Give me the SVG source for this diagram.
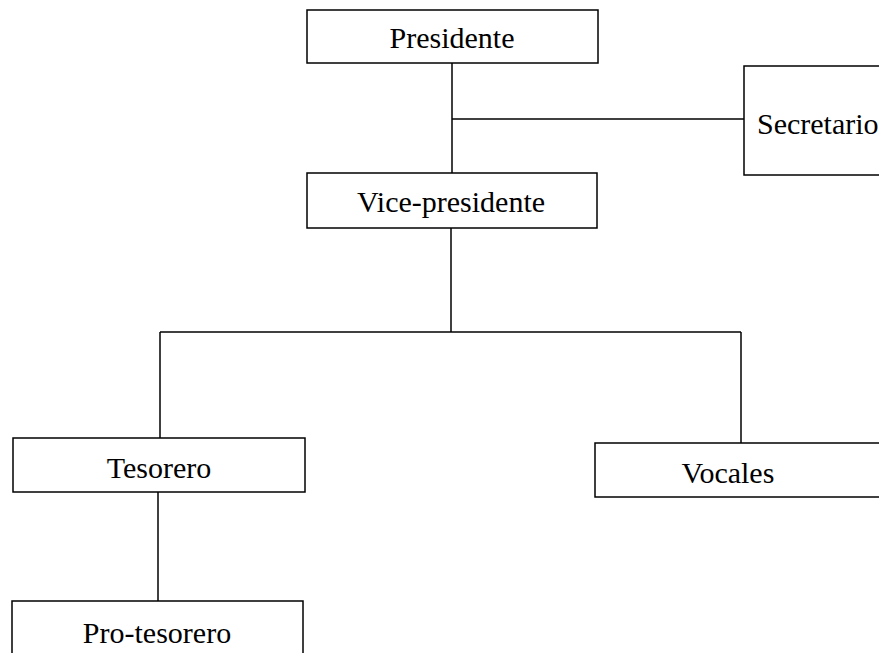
<svg xmlns="http://www.w3.org/2000/svg" width="879" height="653" viewBox="0 0 879 653">
<style>
.box{fill:#fff;stroke:#000;stroke-width:1.5}
.lbl{font-family:"Liberation Serif","Times New Roman",serif;font-size:30px;fill:#000;text-anchor:middle}
.con{fill:none;stroke:#000;stroke-width:1.5}
</style>
<rect width="879" height="653" fill="#fff"/>
<g id="connectors">
<path class="con" d="M452 63V173"/>
<path class="con" d="M452 119H744"/>
<path class="con" d="M451 228V332"/>
<path class="con" d="M160 332H741"/>
<path class="con" d="M160 332V438"/>
<path class="con" d="M741 332V443"/>
<path class="con" d="M158 492V601"/>
</g>
<g id="presidente"><rect class="box" x="307" y="10" width="291" height="53"/><text class="lbl" x="452" y="48">Presidente</text></g>
<g id="secretario"><rect class="box" x="744" y="66" width="150" height="109"/><text class="lbl" x="757" y="134" style="text-anchor:start">Secretario</text></g>
<g id="vicepresidente"><rect class="box" x="307" y="173" width="290" height="55"/><text class="lbl" x="451" y="212">Vice-presidente</text></g>
<g id="tesorero"><rect class="box" x="13" y="438" width="292" height="54"/><text class="lbl" x="159" y="478">Tesorero</text></g>
<g id="vocales"><rect class="box" x="595" y="443" width="300" height="54"/><text class="lbl" x="728" y="483">Vocales</text></g>
<g id="protesorero"><rect class="box" x="12" y="601" width="291" height="70"/><text class="lbl" x="157" y="643">Pro-tesorero</text></g>
</svg>
